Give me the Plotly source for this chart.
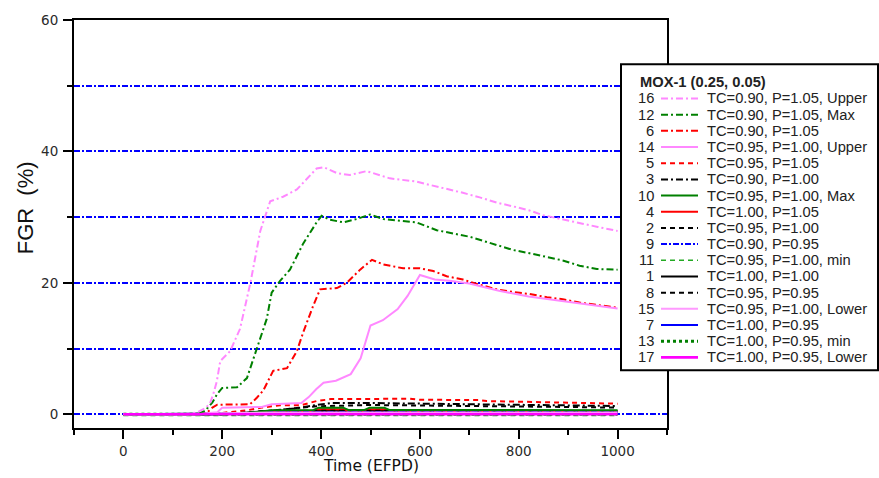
import plotly.graph_objects as go

# ---------------- data ----------------
x_16 = [0, 130, 150, 165, 175, 182, 189, 196, 216, 236, 257, 277, 297, 323, 351, 391, 405, 432, 458, 492, 539,
        593, 620, 660, 687, 721, 756, 796, 822, 849, 889, 929, 960, 1000]
y_16 = [0, 0, 0.3, 0.9, 1.6, 3.1, 5.0, 8.1, 9.6, 13.0, 20.0, 27.9, 32.4, 33.1, 34.2, 37.4, 37.6, 36.7, 36.4, 37.0, 35.9,
        35.4, 34.9, 34.2, 33.7, 33.0, 32.2, 31.5, 31.0, 30.3, 29.7, 29.0, 28.5, 27.9]

x_12 = [0, 150, 165, 180, 190, 200, 230, 250, 270, 290, 300, 317, 337, 364, 391, 401, 418, 445, 472, 499, 526,
        593, 634, 661, 701, 727, 756, 788, 822, 857, 889, 923, 958, 1000]
y_12 = [0, 0, 0.5, 1.8, 3.1, 4.0, 4.1, 5.5, 10.0, 14.5, 18.5, 20.3, 22.0, 26.0, 29.2, 30.2, 29.6, 29.2, 29.7, 30.4, 29.7,
        29.2, 28.0, 27.6, 27.0, 26.4, 25.7, 25.0, 24.5, 23.9, 23.4, 22.6, 22.1, 22.0]

x_6 = [0, 150, 170, 180, 190, 256, 270, 283, 303, 331, 351, 364, 384, 398, 432, 452, 479, 503, 526, 566, 600, 627,
       654, 687, 721, 756, 788, 822, 857, 889, 923, 958, 1000]
y_6 = [0, 0, 0.3, 1.0, 1.45, 1.5, 2.5, 3.6, 6.6, 7.0, 9.6, 12.5, 16.5, 19.0, 19.2, 20.0, 22.0, 23.5, 22.8, 22.2, 22.2, 21.8,
       21.0, 20.5, 19.7, 19.0, 18.6, 18.3, 17.8, 17.5, 17.0, 16.6, 16.2]

x_14 = [0, 150, 190, 200, 280, 300, 360, 375, 390, 405, 430, 460, 480, 500, 525, 555, 575, 600, 630, 660, 700,
        760, 820, 890, 960, 1000]
y_14 = [0, 0, 0.3, 1.0, 1.1, 1.5, 1.7, 2.6, 3.8, 4.8, 5.1, 6.1, 8.5, 13.5, 14.3, 16.0, 18.0, 21.2, 20.5, 20.3, 19.9,
        18.8, 17.9, 17.2, 16.4, 16.1]

x_5 = [0, 150, 200, 250, 280, 317, 358, 375, 391, 420, 500, 580, 600, 720, 735, 835, 905, 1000]
y_5 = [0, 0, 0.2, 0.6, 1.0, 1.35, 1.35, 1.7, 2.0, 2.3, 2.35, 2.35, 2.2, 2.15, 2.0, 1.9, 1.75, 1.6]

x_3 = [0, 150, 250, 300, 350, 391, 420, 500, 600, 700, 800, 900, 1000]
y_3 = [0, 0, 0.2, 0.6, 0.9, 1.4, 1.7, 1.7, 1.6, 1.6, 1.5, 1.4, 1.25]

x_10 = [0, 200, 250, 300, 385, 395, 445, 455, 488, 498, 528, 538, 1000]
y_10 = [0, 0, 0.2, 0.6, 0.65, 1.0, 1.0, 0.65, 0.65, 1.0, 1.0, 0.65, 0.6]

x_4 = [0, 200, 250, 300, 385, 392, 448, 455, 490, 495, 530, 535, 1000]
y_4 = [0, 0, 0.1, 0.4, 0.4, 0.75, 0.75, 0.4, 0.4, 0.75, 0.75, 0.4, 0.4]

x_2 = [0, 150, 250, 300, 358, 391, 500, 600, 700, 800, 900, 1000]
y_2 = [0, 0, 0.2, 0.5, 1.0, 1.2, 1.4, 1.35, 1.3, 1.2, 1.1, 1.0]

x_9 = [0, 200, 300, 1000]
y_9 = [0, 0, 0.3, 0.3]

x_11 = [0, 1000]
y_11 = [-0.2, -0.2]

x_1 = [0, 200, 300, 1000]
y_1 = [0, 0, 0.5, 0.5]

x_8 = [0, 200, 300, 1000]
y_8 = [0, 0, 0.55, 0.45]

x_15 = [0, 150, 200, 300, 1000]
y_15 = [0, 0, 0.15, 0.25, 0.25]

x_7 = [0, 300, 1000]
y_7 = [0, 0.15, 0.15]

x_13 = [0, 1000]
y_13 = [0, 0]

x_17 = [0, 1000]
y_17 = [0, 0]

legend_order = [16, 12, 6, 14, 5, 3, 10, 4, 2, 9, 11, 1, 8, 15, 7, 13, 17]
legend_labels = {
    16: "TC=0.90, P=1.05, Upper", 12: "TC=0.90, P=1.05, Max", 6: "TC=0.90, P=1.05",
    14: "TC=0.95, P=1.00, Upper", 5: "TC=0.95, P=1.05", 3: "TC=0.90, P=1.00",
    10: "TC=0.95, P=1.00, Max", 4: "TC=1.00, P=1.05", 2: "TC=0.95, P=1.00",
    9: "TC=0.90, P=0.95", 11: "TC=0.95, P=1.00, min", 1: "TC=1.00, P=1.00",
    8: "TC=0.95, P=0.95", 15: "TC=0.95, P=1.00, Lower", 7: "TC=1.00, P=0.95",
    13: "TC=1.00, P=0.95, min", 17: "TC=1.00, P=0.95, Lower",
}
legend_title = "MOX-1 (0.25, 0.05)"

x_range = [-100, 1100]
y_range = [-2.1, 60]
x_title = "Time (EFPD)"
y_title = "FGR  (%)"

# ---------------- styles ----------------
DASHDOT = "7px,3px,2px,3px"
DASHED = "5px,4px"
BLUEDD = "6px,2px,2px,2px"
PINK = "#FF88FF"
styles = {
    16: (PINK, DASHDOT, 2), 12: ("#008000", DASHDOT, 2), 6: ("#FF0000", DASHDOT, 2),
    14: (PINK, "solid", 2), 5: ("#FF0000", DASHED, 2), 3: ("#000000", DASHDOT, 2),
    10: ("#008000", "solid", 2), 4: ("#FF0000", "solid", 2), 2: ("#000000", DASHED, 2),
    9: ("#0000FF", BLUEDD, 2), 11: ("#22AA22", DASHED, 1.6), 1: ("#000000", "solid", 2),
    8: ("#000000", DASHED, 2), 15: ("#FF99FF", "solid", 2), 7: ("#0000FF", "solid", 2),
    13: ("#008000", "3px,3px", 3), 17: ("#FF00FF", "solid", 2.6),
}
series = {
    1: (x_1, y_1), 2: (x_2, y_2), 3: (x_3, y_3), 4: (x_4, y_4), 5: (x_5, y_5), 6: (x_6, y_6),
    7: (x_7, y_7), 8: (x_8, y_8), 9: (x_9, y_9), 10: (x_10, y_10), 11: (x_11, y_11), 12: (x_12, y_12),
    13: (x_13, y_13), 14: (x_14, y_14), 15: (x_15, y_15), 16: (x_16, y_16), 17: (x_17, y_17),
}

W, H = 879, 478
L, R, T, B = 74, 212, 12, 50
PW, PH = W - L - R, H - T - B


def px(xp):
    return (xp - L) / PW


def py(yp):
    return (H - B - yp) / PH


fig = go.Figure()
for n in range(1, 18):
    xs, ys = series[n]
    col, dash, w = styles[n]
    fig.add_trace(go.Scatter(x=xs, y=ys, mode="lines", name=legend_labels[n],
                             line=dict(color=col, dash=dash, width=w), showlegend=False))

tickfont = dict(family="DejaVu Sans", size=13.5, color="#2a2a2a")
fig.update_xaxes(range=x_range, showgrid=False, zeroline=False, showline=True, linecolor="black",
                 linewidth=2, mirror=True, ticks="outside", ticklen=9, tickwidth=2, tickcolor="black",
                 tick0=0, dtick=200, tickfont=tickfont, ticklabelstandoff=1,
                 minor=dict(ticks="outside", ticklen=5, tickwidth=2, tickcolor="black", dtick=100, tick0=0))
fig.update_yaxes(range=y_range, showgrid=True, gridcolor="#0000FF", gridwidth=2, griddash=BLUEDD,
                 zeroline=False, showline=True, linecolor="black", linewidth=2, mirror=True,
                 ticks="outside", ticklen=9, tickwidth=2, tickcolor="black", tick0=0, dtick=20,
                 tickfont=tickfont, ticklabelstandoff=2,
                 minor=dict(ticks="outside", ticklen=5, tickwidth=2, tickcolor="black", dtick=10, tick0=0,
                            showgrid=True, gridcolor="#0000FF", gridwidth=2, griddash=BLUEDD))

shapes = []
annotations = []
# legend box
shapes.append(dict(type="rect", xref="paper", yref="paper", x0=px(621), x1=px(878), y0=py(369), y1=py(57),
                   line=dict(color="black", width=2), fillcolor="white", layer="above"))
legfont = dict(family="Arial, Liberation Sans", size=14.7, color="#222222")
annotations.append(dict(xref="paper", yref="paper", x=px(638), y=py(75), text="<b>" + legend_title + "</b>",
                        showarrow=False, xanchor="left", yanchor="middle", font=legfont))
row_y0, row_dy = 92, 16.5
for i, n in enumerate(legend_order):
    yy = row_y0 + i * row_dy
    col, dash, w = styles[n]
    shapes.append(dict(type="line", xref="paper", yref="paper", x0=px(661), x1=px(698), y0=py(yy), y1=py(yy),
                       line=dict(color=col, dash=dash, width=w), layer="above"))
    annotations.append(dict(xref="paper", yref="paper", x=px(656), y=py(yy), text=str(n), showarrow=False,
                            xanchor="right", yanchor="middle", font=legfont))
    annotations.append(dict(xref="paper", yref="paper", x=px(705), y=py(yy), text=legend_labels[n],
                            showarrow=False, xanchor="left", yanchor="middle", font=legfont))

# axis titles
annotations.append(dict(xref="paper", yref="paper", x=0.5, y=py(467), text=x_title, showarrow=False,
                        xanchor="center", yanchor="middle",
                        font=dict(family="DejaVu Sans", size=15.5, color="#111111")))
annotations.append(dict(xref="paper", yref="paper", x=px(25), y=py(204), text=y_title, showarrow=False,
                        xanchor="center", yanchor="middle", textangle=-90,
                        font=dict(family="Arial, Liberation Sans", size=22, color="#111111")))

fig.update_layout(width=W, height=H, autosize=False, margin=dict(l=L, r=R, t=T, b=B),
                  plot_bgcolor="white", paper_bgcolor="white", showlegend=False,
                  shapes=shapes, annotations=annotations)

fig.write_html("out.html", config={"displayModeBar": False},
               post_script="document.body.style.margin='0';document.body.style.padding='0';"
                           "document.documentElement.style.overflow='hidden';")
